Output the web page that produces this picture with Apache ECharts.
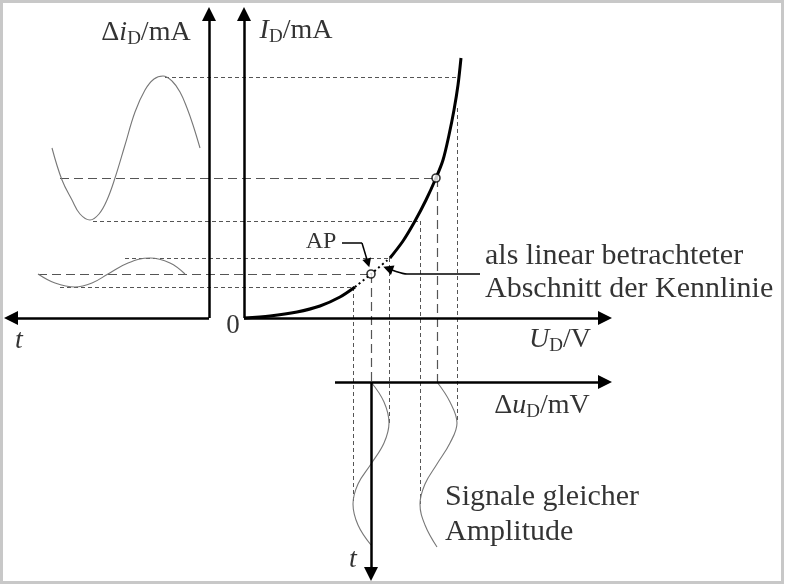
<!DOCTYPE html>
<html><head><meta charset="utf-8">
<script src="https://cdn.jsdelivr.net/npm/echarts/dist/echarts.min.js"></script>
<style>html,body{margin:0;padding:0;background:#fff}#c{width:786px;height:586px}</style>
</head><body><div id="c"></div>
<script>
// ---- Diagram data (origin = diode origin, units ~ px, y up) ----
const kennlinieLow = [[0,0],[26,2],[53,6],[76,12],[96,21],[111,31]];
const kennlinieLinear = [[111,31],[127,44],[146,60]];
const kennlinieHigh = [[146,60],[159,77],[171,97],[182,118],[192,140],[199,158],[205,183],[210,208],[214,233],[217,260]];
const arbeitspunkte = [[127,44],[192,140]];

const bigSine = [[-192,170],[-182,138],[-172,118],[-164,104],[-154,98],[-145,104],[-137,118],[-129,140],[-119,173],[-109,206],[-99,228],[-90,239],[-81,242],[-72,237],[-64,226],[-57,210],[-51,193],[-44,170]];
const smallSine = [[-206,44],[-189,35],[-169,31],[-152,35],[-136,44],[-116,55],[-94,60],[-74,55],[-59,44]];
const bottomSineA = [[127,-64],[140,-84],[145,-105],[140,-125],[127,-146],[114,-166],[109,-186],[114,-207],[127,-227]];
const bottomSineB = [[193,-64],[206,-84],[213,-105],[206,-125],[193,-146],[181,-166],[176,-186],[181,-207],[193,-229]];

const axisLines = [
  [[0,0],[0,304]],
  [[0,0],[361,0]],
  [[-35,0],[-35,304]],
  [[-35,0],[-233,0]],
  [[91,-64],[361,-64]],
  [[127,-64],[127,-256]]
];
const guideShortH = [[[-79,241],[214,241]],[[-151,97],[174,97]],[[-119,60],[146,60]],[[-184,31],[111,31]]];
const guideLongH = [[[-184,140],[192,140]],[[-206,44],[127,44]]];
const guideShortV = [[[109,31],[109,-186]],[[145,60],[145,-105]],[[176,97],[176,-186]],[[213,210],[213,-105]]];
const guideLongV = [[[127,44],[127,-64]],[[193,140],[193,-64]]];

const apArrowPath = [[98,75],[118,75]];
const apArrowHead = [[[118,75],[124,55]]];
const textArrowPath = [[236,44],[163,44],[152,46.5]];
const textArrowHead = [[[152,46.5],[144,49.5]]];

const labelItems = [
  {pos:[-98,285], text:'{n|Δ}{it|i}{sub|D}{n|/mA}', align:'center'},
  {pos:[52,287], text:'{it|I}{sub|D}{n|/mA}', align:'center'},
  {pos:[316,-22], text:'{it|U}{sub|D}{n|/V}', align:'center'},
  {pos:[298,-88], text:'{n|Δ}{it|u}{sub|D}{n|/mV}', align:'center'},
  {pos:[-11,-8], text:'{z|0}', align:'center'},
  {pos:[-225,-23], text:'{it|t}', align:'center'},
  {pos:[109,-242], text:'{it|t}', align:'center'},
  {pos:[77,76], text:'{ap|AP}', align:'center'},
  {pos:[241,62], text:'{t|als linear betrachteter}', align:'left'},
  {pos:[241,29], text:'{t|Abschnitt der Kennlinie}', align:'left'},
  {pos:[201,-179], text:'{t|Signale gleicher}', align:'left'},
  {pos:[201,-214], text:'{t|Amplitude}', align:'left'}
];

// ---- Rendering ----
const FONT = '"Liberation Serif","Times New Roman",serif';
const TXT = '#000';
const seg = arr => arr.map(c => ({coords: c}));
const common = {silent:true, animation:false};
const lineS = (data, style, smooth, z) => Object.assign({type:'line', data, symbol:'none', showSymbol:false, smooth, lineStyle:style, z}, common);
const linesS = (data, style, sym, size, z) => Object.assign({type:'lines', coordinateSystem:'cartesian2d', data:seg(data), lineStyle:Object.assign({opacity:1, curveness:0}, style), symbol:sym, symbolSize:size, itemStyle:{color:style.color}, z}, common);

const series = [
  linesS(guideShortH.concat(guideShortV), {color:'#555', width:1, type:[4,3]}, 'none', 0, 1),
  linesS(guideLongH.concat(guideLongV), {color:'#555', width:1.2, type:[9,5]}, 'none', 0, 1),
  lineS(bigSine, {color:'#777', width:1.1}, 0.4, 2),
  lineS(smallSine, {color:'#777', width:1.1}, 0.4, 2),
  lineS(bottomSineA, {color:'#777', width:1.1}, 0.4, 2),
  lineS(bottomSineB, {color:'#777', width:1.1}, 0.4, 2),
  lineS(kennlinieLow, {color:'#000', width:3}, 0.3, 3),
  lineS(kennlinieLinear, {color:'#000', width:2, type:[2,3]}, 0.3, 3),
  lineS(kennlinieHigh, {color:'#000', width:3}, 0.3, 3),
  linesS(axisLines, {color:'#000', width:2.5}, ['none','triangle'], 14, 4),
  lineS(apArrowPath, {color:'#000', width:1.5}, false, 4),
  linesS(apArrowHead, {color:'#000', width:1.5}, ['none','triangle'], 9, 4),
  lineS(textArrowPath, {color:'#000', width:1.5}, 0.3, 4),
  linesS(textArrowHead, {color:'#000', width:1.5}, ['none','triangle'], 10, 4),
  Object.assign({type:'scatter', data:arbeitspunkte, symbol:'circle', symbolSize:8, itemStyle:{color:'#fff', borderColor:'#000', borderWidth:1.6}, z:6}, common),
  Object.assign({type:'scatter', symbolSize:1, itemStyle:{color:'rgba(0,0,0,0)'}, z:7,
    data: labelItems.map(l => ({value:l.pos, label:{formatter:l.text, align:l.align}})),
    label:{show:true, position:'inside', verticalAlign:'middle', color:TXT, fontFamily:FONT,
      rich:{
        n:{fontFamily:FONT, fontSize:28, color:TXT},
        it:{fontFamily:FONT, fontSize:28, fontStyle:'italic', color:TXT},
        sub:{fontFamily:FONT, fontSize:19, color:TXT, padding:[13,0,0,0]},
        z:{fontFamily:FONT, fontSize:27, color:TXT},
        ap:{fontFamily:FONT, fontSize:24, color:TXT},
        t:{fontFamily:FONT, fontSize:30, color:TXT}
      }}}, common)
];

const chart = echarts.init(document.getElementById('c'), null, {renderer:'canvas'});
chart.setOption({
  backgroundColor:'#fff',
  animation:false,
  grid:{left:0, right:0, top:0, bottom:0, containLabel:false},
  xAxis:{type:'value', min:-244, max:542, show:false},
  yAxis:{type:'value', min:-268, max:318, show:false},
  graphic:[{type:'rect', silent:true, shape:{x:1.5, y:1.5, width:781, height:581}, style:{fill:'none', stroke:'#c8c8c8', lineWidth:3}, z:100}],
  series
});
</script></body></html>
